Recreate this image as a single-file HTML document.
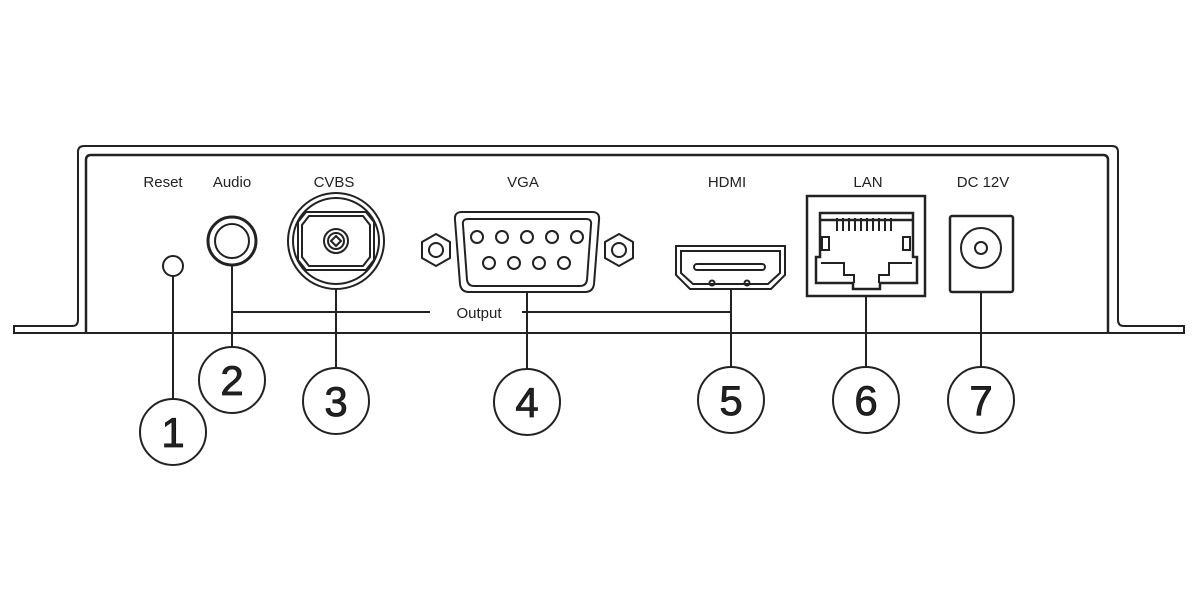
<!DOCTYPE html>
<html><head><style>
html,body{margin:0;padding:0;background:#fff;}
svg{display:block;}
text{font-family:"Liberation Sans",sans-serif;fill:#222;}
</style></head><body>
<svg width="1200" height="600" viewBox="0 0 1200 600">
<g fill="none" stroke="#222" stroke-width="2">
<path d="M14,333 L14,326 L72,326 Q78,326 78,320 L78,152 Q78,146 84,146 L1112,146 Q1118,146 1118,152 L1118,320 Q1118,326 1124,326 L1184,326 L1184,333 Z"/>
<path d="M86,333 L86,160 Q86,155 91,155 L1103,155 Q1108,155 1108,160 L1108,333" stroke-width="2.5"/>
<circle cx="173" cy="266" r="10"/>
<line x1="173" y1="276" x2="173" y2="399"/>
<circle cx="232" cy="241" r="24" stroke-width="3"/>
<circle cx="232" cy="241" r="17"/>
<line x1="232" y1="265" x2="232" y2="347"/>
<circle cx="336" cy="241" r="48"/>
<circle cx="336" cy="241" r="43"/>
<polygon points="306,212 366,212 374,222 374,260 366,270 306,270 298,260 298,222"/>
<polygon points="309,216 363,216 370,225 370,257 363,266 309,266 302,257 302,225"/>
<circle cx="336" cy="241" r="12"/>
<circle cx="336" cy="241" r="8"/>
<polygon points="336,236 341,241 336,246 331,241"/>
<line x1="336" y1="289" x2="336" y2="368"/>
<path d="M232,312 L430,312 M522,312 L731,312"/>
<path d="M462,212 L592,212 Q600,212 599,220 L594,284 Q593,292 585,292 L469,292 Q461,292 460,284 L455,220 Q454,212 462,212 Z"/>
<path d="M468,219 L586,219 Q592,219 591,225 L587,280 Q586,286 580,286 L474,286 Q468,286 467,280 L463,225 Q462,219 468,219 Z"/>
<circle cx="477" cy="237" r="6"/><circle cx="502" cy="237" r="6"/><circle cx="527" cy="237" r="6"/><circle cx="552" cy="237" r="6"/><circle cx="577" cy="237" r="6"/>
<circle cx="489" cy="263" r="6"/><circle cx="514" cy="263" r="6"/><circle cx="539" cy="263" r="6"/><circle cx="564" cy="263" r="6"/>
<polygon points="436,234 450,242 450,258 436,266 422,258 422,242"/>
<circle cx="436" cy="250" r="7"/>
<polygon points="619,234 633,242 633,258 619,266 605,258 605,242"/>
<circle cx="619" cy="250" r="7"/>
<line x1="527" y1="292" x2="527" y2="369"/>
<path d="M676,246 L785,246 L785,275 L771,289 L690,289 L676,275 Z"/>
<path d="M681,251 L780,251 L780,273 L768,284 L693,284 L681,273 Z"/>
<rect x="694" y="264" width="71" height="6" rx="3"/>
<circle cx="712" cy="283" r="2.5"/><circle cx="747" cy="283" r="2.5"/>
<line x1="731" y1="289" x2="731" y2="367"/>
<rect x="807" y="196" width="118" height="100" stroke-width="2.5"/>
<path d="M820,213 L913,213 L913,257 L917,257 L917,283 L880,283 L880,289 L853,289 L853,283 L816,283 L816,257 L820,257 Z" stroke-width="2.5"/>
<path d="M821,220 L912,220" stroke-width="2.5"/>
<path d="M837,218 L837,231 M843,218 L843,231 M849,218 L849,231 M855,218 L855,231 M861,218 L861,231 M867,218 L867,231 M873,218 L873,231 M879,218 L879,231 M885,218 L885,231 M891,218 L891,231"/>
<rect x="822" y="237" width="7" height="13"/>
<rect x="903" y="237" width="7" height="13"/>
<path d="M821,263 L844,263 L844,275 L854,275 L854,283 M912,263 L889,263 L889,275 L879,275 L879,283"/>
<line x1="866" y1="296" x2="866" y2="367"/>
<rect x="950" y="216" width="63" height="76" rx="2" stroke-width="2.5"/>
<circle cx="981" cy="248" r="20"/>
<circle cx="981" cy="248" r="6"/>
<line x1="981" y1="292" x2="981" y2="367"/>
<circle cx="173" cy="432" r="33"/>
<circle cx="232" cy="380" r="33"/>
<circle cx="336" cy="401" r="33"/>
<circle cx="527" cy="402" r="33"/>
<circle cx="731" cy="400" r="33"/>
<circle cx="866" cy="400" r="33"/>
<circle cx="981" cy="400" r="33"/>
</g>
<g font-size="15" text-anchor="middle">
<text x="163" y="187">Reset</text>
<text x="232" y="187">Audio</text>
<text x="334" y="187">CVBS</text>
<text x="523" y="187">VGA</text>
<text x="727" y="187">HDMI</text>
<text x="868" y="187">LAN</text>
<text x="983" y="187">DC 12V</text>
<text x="479" y="318">Output</text>
</g>
<g font-size="42" text-anchor="middle" style="fill:#111;stroke:#111;stroke-width:0.8">
<text x="173" y="447">1</text>
<text x="232" y="395">2</text>
<text x="336" y="416">3</text>
<text x="527" y="417">4</text>
<text x="731" y="415">5</text>
<text x="866" y="415">6</text>
<text x="981" y="415">7</text>
</g>
</svg>
</body></html>
